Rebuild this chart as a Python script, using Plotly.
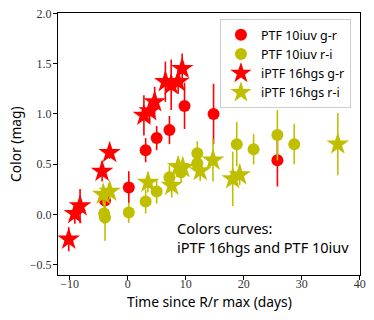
import plotly.graph_objects as go

# PTF 10iuv g-r (circles, red)
iuv_gr_t = [-3.9, 0.2, 3.1, 5.0, 7.2, 9.8, 14.8, 25.8]
iuv_gr_c = [0.14, 0.27, 0.64, 0.76, 0.84, 1.08, 1.00, 0.54]
iuv_gr_e = [0.10, 0.16, 0.12, 0.12, 0.14, 0.23, 0.30, 0.26]

# PTF 10iuv r-i (circles, yellow)
iuv_ri_t = [-4.05, -3.9, 0.2, 3.1, 5.0, 7.2, 9.2, 12.0, 12.0, 18.8, 21.7, 25.8, 28.7]
iuv_ri_c = [0.01, -0.03, 0.02, 0.13, 0.23, 0.37, 0.42, 0.61, 0.51, 0.70, 0.65, 0.79, 0.70]
iuv_ri_e = [0.10, 0.23, 0.10, 0.12, 0.12, 0.12, 0.10, 0.12, 0.10, 0.22, 0.15, 0.25, 0.20]

# iPTF 16hgs g-r (stars, red)
hgs_gr_t = [-10.15, -9.1, -8.2, -4.4, -3.1, 2.8, 3.8, 4.65, 6.5, 7.5, 8.7, 9.4]
hgs_gr_c = [-0.245, 0.01, 0.085, 0.43, 0.615, 0.985, 1.03, 1.12, 1.32, 1.29, 1.32, 1.45]
hgs_gr_e = [0.12, 0.10, 0.17, 0.10, 0.06, 0.20, 0.12, 0.15, 0.20, 0.25, 0.12, 0.15]

# iPTF 16hgs r-i (stars, yellow)
hgs_ri_t = [-4.2, -3.1, 3.5, 7.6, 8.7, 9.5, 12.5, 14.7, 18.1, 19.3, 36.2]
hgs_ri_c = [0.20, 0.23, 0.32, 0.29, 0.475, 0.465, 0.435, 0.54, 0.355, 0.395, 0.70]
hgs_ri_e = [0.10, 0.08, 0.10, 0.12, 0.10, 0.10, 0.10, 0.21, 0.27, 0.10, 0.31]

x_ticks = [-10, 0, 10, 20, 30, 40]
x_ticktext = ["\u221210", "0", "10", "20", "30", "40"]
y_ticks = [-0.5, 0, 0.5, 1.0, 1.5, 2.0]
y_ticktext = ["\u22120.5", "0.0", "0.5", "1.0", "1.5", "2.0"]

note_text = "Colors curves:<br>iPTF 16hgs and PTF 10iuv"

RED = "#ff0000"
YEL = "#bfbf00"
SANS = "Noto Sans"

fig = go.Figure()

def add(t, c, e, color, symbol, size, name):
    fig.add_trace(go.Scatter(
        x=t, y=c, mode="markers", name=name,
        marker=dict(color=color, symbol=symbol, size=size, line=dict(width=0)),
        error_y=dict(type="data", array=e, visible=True, color=color,
                     thickness=1.6, width=0),
    ))

add(iuv_gr_t, iuv_gr_c, iuv_gr_e, RED, "circle", 12, "PTF 10iuv g-r")
add(iuv_ri_t, iuv_ri_c, iuv_ri_e, YEL, "circle", 12, "PTF 10iuv r-i")
add(hgs_gr_t, hgs_gr_c, hgs_gr_e, RED, "star", 17, "iPTF 16hgs g-r")
add(hgs_ri_t, hgs_ri_c, hgs_ri_e, YEL, "star", 17, "iPTF 16hgs r-i")

fig.add_annotation(
    x=8.2, y=-0.232, xref="x", yref="y", xanchor="left", yanchor="middle",
    text=note_text, showarrow=False, align="left",
    font=dict(family=SANS, size=14.5, color="black"),
)

# axis titles
fig.add_annotation(x=0.5, y=0, xref="paper", yref="paper", xanchor="center",
                   yanchor="middle", yshift=-26, showarrow=False,
                   text="Time since R/r max (days)",
                   font=dict(family=SANS, size=13.8, color="black"))
fig.add_annotation(x=0, y=0.5, xref="paper", yref="paper", xanchor="center",
                   yanchor="middle", xshift=-43, textangle=-90, showarrow=False,
                   text="Color (mag)",
                   font=dict(family=SANS, size=13.8, color="black"))

axis_common = dict(
    showline=True, linecolor="black", linewidth=1, mirror=True, automargin=False,
    ticks="outside", ticklen=4, tickcolor="black", showgrid=False, zeroline=False,
    ticklabeloverflow="allow",
    tickfont=dict(family="Liberation Serif", size=12, color="#333"),
)

fig.update_xaxes(range=[-12, 40.03], tickvals=x_ticks, ticktext=x_ticktext,
                 ticklabelstandoff=-6, **axis_common)
fig.update_yaxes(range=[-0.6, 2.003], tickvals=y_ticks, ticktext=y_ticktext,
                 ticklabelstandoff=-1, **axis_common)

fig.update_layout(
    width=374, height=320,
    margin=dict(l=58, r=14, t=13, b=45),
    plot_bgcolor="white", paper_bgcolor="white",
    legend=dict(x=0.97, y=0.977, xanchor="right", yanchor="top",
                bgcolor="white", bordercolor="#cccccc", borderwidth=1,
                font=dict(family=SANS, size=12.5, color="black"),
                itemsizing="trace", tracegroupgap=0),
)

fig.write_html("out.html", config={"displayModeBar": False},
               post_script="document.body.style.margin='0';")
